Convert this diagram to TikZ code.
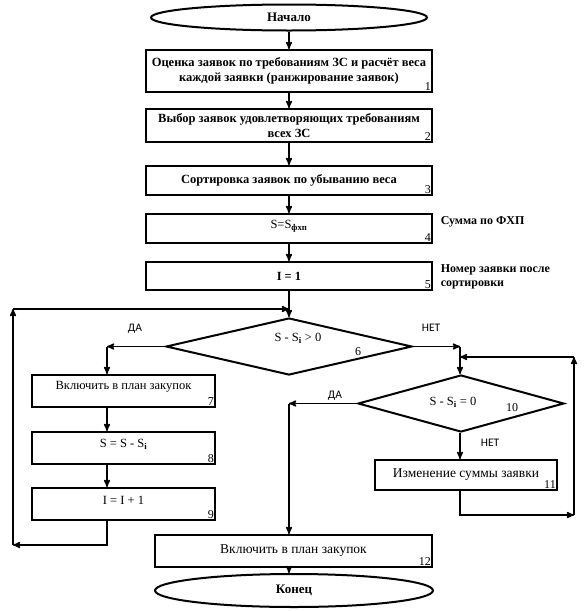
\documentclass[tikz,border=0pt]{standalone}
\usepackage{fontspec}
\setmainfont{Liberation Serif}
\newfontfamily\dafont{Carlito}
\usepackage{tikz}
\usetikzlibrary{arrows,shapes.geometric}
\tikzset{
 >=stealth',
 blok/.style={draw,shape=rectangle,line width=2pt,inner sep=1pt,align=center,font=\fontsize{12.5}{15}\selectfont},
 blokb/.style={blok,font=\fontsize{12.5}{15.5}\selectfont\bfseries},
 oval/.style={draw,shape=ellipse,line width=2pt,inner sep=0pt,font=\fontsize{13}{14}\selectfont\bfseries},
 romb/.style={draw,shape=diamond,line width=2pt,inner sep=0pt},
 nomer/.style={anchor=south east,inner sep=1.5pt,font=\fontsize{12}{12}\selectfont},
 vetka/.style={font=\dafont\fontsize{11.5}{11.5}\selectfont},
 primech/.style={anchor=west,align=left,inner sep=0pt,font=\fontsize{12}{13.5}\selectfont\bfseries},
 every path/.style={line width=1.5pt}
}
\begin{document}
\begin{tikzpicture}[x=1pt,y=-1pt]
\useasboundingbox (0,0) rectangle (584,611);
% main column
\path (289,17.5) node[oval,name=start,minimum width=276,minimum height=26] {Начало};
\path (289,71) node[blokb,name=b1,minimum width=286,minimum height=42] {Оценка заявок по требованиям ЗС и расчёт веса\\каждой заявки (ранжирование заявок)};
\path (289,125.5) node[blokb,name=b2,minimum width=286,minimum height=33] {Выбор заявок удовлетворяющих требованиям\\всех ЗС};
\path (289,180.5) node[blokb,name=b3,minimum width=286,minimum height=29] {Сортировка заявок по убыванию веса};
\path (289,228.5) node[blokb,name=b4,minimum width=286,minimum height=29] {};
\path (289,276) node[blokb,name=b5,minimum width=286,minimum height=28] {I = 1};
\path (b4.center)+(0,-2) node[font=\fontsize{12.5}{14}\selectfont] {S=S\textsubscript{\textbf{фхп}}};
\path (b1.south east) node[nomer] {1};
\path (b2.south east) node[nomer] {2};
\path (b3.south east) node[nomer] {3};
\path (b4.south east) node[nomer] {4};
\path (b5.south east) node[nomer] {5};
\path (440,222) node[primech,name=prim4] {Сумма по ФХП};
\path (440,277) node[primech,name=prim5] {Номер заявки после\\сортировки};

% condition 6
\path (289,346.5) node[romb,name=d6,minimum width=246,minimum height=57] {};
\path (298,338) node[font=\fontsize{12.5}{14}\selectfont] {S - S\textsubscript{\textbf{i}} > 0};
\path (358,352) node[font=\fontsize{12}{12}\selectfont] {6};
\path (135,329) node[vetka] {ДА};
\path (431,328) node[vetka] {НЕТ};

% left branch
\path (123.5,391) node[blok,name=b7,minimum width=183,minimum height=32] {};
\path (123.5,448) node[blok,name=b8,minimum width=183,minimum height=32] {};
\path (123.5,504) node[blok,name=b9,minimum width=183,minimum height=32] {};
\path (b7.center)+(0,-4) node[font=\fontsize{12.5}{14}\selectfont] {Включить в план закупок};
\path (b8.center)+(0,-4) node[font=\fontsize{12.5}{14}\selectfont] {S = S - S\textsubscript{\textbf{i}}};
\path (b9.center)+(0,-4) node[font=\fontsize{12.5}{14}\selectfont] {I = I + 1};
\path (b7.south east) node[nomer] {7};
\path (b8.south east) node[nomer] {8};
\path (b9.south east) node[nomer] {9};

% right branch
\path (461,403.5) node[romb,name=d10,minimum width=206,minimum height=57] {};
\path (453,402) node[font=\fontsize{12.5}{14}\selectfont] {S - S\textsubscript{\textbf{i}} = 0};
\path (512,408) node[font=\fontsize{12}{12}\selectfont] {10};
\path (335,396) node[vetka] {ДА};
\path (490,443) node[vetka] {НЕТ};
\path (466,475) node[blok,name=b11,minimum width=182,minimum height=30,font=\fontsize{13.5}{15}\selectfont] {Изменение суммы заявки};
\path (b11.south east) node[nomer] {11};

% end
\path (293.5,551) node[blok,name=b12,minimum width=277,minimum height=32,font=\fontsize{13.5}{15}\selectfont] {Включить в план закупок};
\path (b12.south east) node[nomer] {12};
\path (294,590.5) node[oval,name=konec,minimum width=278,minimum height=33] {Конец};

\coordinate (levo) at (107,346.5);
\coordinate (pravo) at (460,346.5);
\coordinate (u1) at (107,545);
\coordinate (u2) at (13,545);
\coordinate (u3) at (13,309);
\coordinate (u4) at (460,515);
\coordinate (u5) at (574,515);
\coordinate (u6) at (574,357);

\path[->] (start) edge (b1);
\path[->] (b1) edge (b2);
\path[->] (b2) edge (b3);
\path[->] (b3) edge (b4);
\path[->] (b4) edge (b5);
\path[->] (b5) edge (d6.north);

\path[->] (d6.west) edge (levo);
\path[->] (levo) edge (levo |- b7.north);
\path[->] (b7.south -| levo) edge (b8.north -| levo);
\path[->] (b8.south -| levo) edge (b9.north -| levo);
\draw[->] (b9.south -| levo) -- (u1) -- (u2);
\path[->] (u2) edge (u3);
\path[->] (u3) edge (u3 -| d6.north);

\path[->] (d6.east) edge (pravo);
\path[->] (pravo) edge (pravo |- d10.north);
\draw[->] (d10.west) -- (d10.west -| b5.south);
\path[->] (d10.west -| b5.south) edge (b12.north -| b5.south);
\path[->] (pravo |- d10.south) edge (pravo |- b11.north);
\draw[->] (b11.south -| pravo) -- (u4) -- (u5);
\path[->] (u5) edge (u6);
\path[->] (u6) edge (u6 -| pravo);

\path[->] (b12.south -| b5.south) edge (konec.north -| b5.south);
\end{tikzpicture}
\end{document}
